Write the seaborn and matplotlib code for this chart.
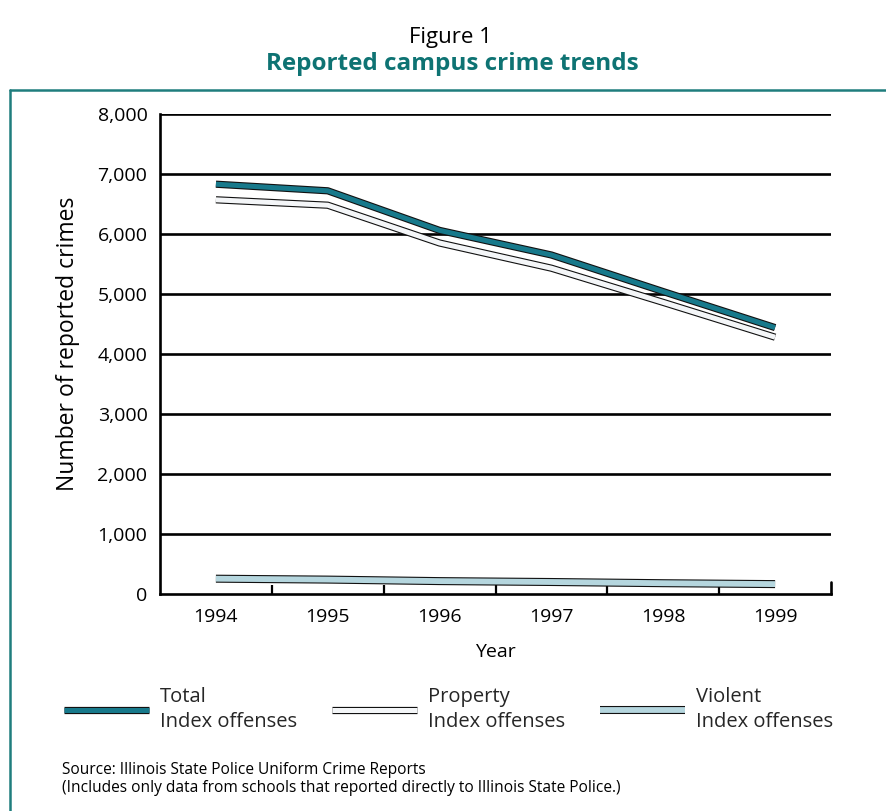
import matplotlib
matplotlib.use("Agg")
import matplotlib.pyplot as plt
import matplotlib.patheffects as pe
from matplotlib.lines import Line2D
from matplotlib.ticker import FixedLocator, FuncFormatter
import seaborn as sns
import pandas as pd

years = [1994, 1995, 1996, 1997, 1998, 1999]
total = [6830, 6720, 6060, 5650, 5040, 4440]
property_ = [6570, 6480, 5850, 5430, 4860, 4280]
violent = [255, 240, 215, 200, 180, 165]
series_labels = ["Total\nIndex offenses", "Property\nIndex offenses", "Violent\nIndex offenses"]
y_ticks = [0, 1000, 2000, 3000, 4000, 5000, 6000, 7000, 8000]

TEAL_LINE = "#17798b"
TEAL_TITLE = "#0e7373"
LIGHT_BLUE = "#b5d6de"
colors = [TEAL_LINE, "#f4f6f8", LIGHT_BLUE]

df = pd.DataFrame({
    "Year": years * 3,
    "Crimes": total + property_ + violent,
    "Series": [series_labels[0]] * 6 + [series_labels[1]] * 6 + [series_labels[2]] * 6,
})

sns.set_theme(style="white")
plt.rcParams["font.family"] = ["Open Sans", "DejaVu Sans"]

fig = plt.figure(figsize=(8.86, 8.11), dpi=100)
ax = fig.add_axes([160 / 886, 1 - 594 / 811, (831 - 160) / 886, (594 - 114) / 811])

# gridlines first
for yv in y_ticks[1:]:
    ax.axhline(yv, color="black", lw=1.9, zorder=1)

n_before = len(ax.lines)
sns.lineplot(data=df, x="Year", y="Crimes", hue="Series", hue_order=series_labels,
             palette=colors, ax=ax, legend=False, linewidth=3.0, sort=False)
series_lines = ax.lines[n_before:]

for i, ln in enumerate(series_lines):
    w = 3.6 if i < 2 else 4.2
    ln.set_linewidth(w)
    ln.set_path_effects([pe.Stroke(linewidth=w + 1.6, foreground="#111111"), pe.Normal()])
    ln.set_solid_capstyle("butt")
    ln.set_solid_joinstyle("round")
    ln.set_zorder(3)

ax.set_xlim(1993.5, 1999.5)
ax.set_ylim(0, 8000)
ax.set_yticks(y_ticks)
ax.yaxis.set_major_formatter(FuncFormatter(lambda v, p: f"{int(v):,}"))
ax.set_xticks(years)
ax.xaxis.set_minor_locator(FixedLocator([1994.5, 1995.5, 1996.5, 1997.5, 1998.5]))
ax.tick_params(axis="x", which="major", length=0, pad=10, labelsize=14, colors="black")
ax.tick_params(axis="x", which="minor", direction="in", length=6.5, width=1.6, color="black", bottom=True)
ax.tick_params(axis="y", length=0, pad=9, labelsize=14, colors="black")

for s in ["top", "right"]:
    ax.spines[s].set_visible(False)
for s in ["left", "bottom"]:
    ax.spines[s].set_color("black")
    ax.spines[s].set_linewidth(1.9)
ax.axvline(1999.5, ymin=0, ymax=12 / 480, color="black", lw=1.9, clip_on=False)

ax.set_xlabel("Year", fontsize=14, labelpad=12, color="black")
ax.set_ylabel("Number of reported crimes", fontsize=16.5, color="black")
ax.yaxis.set_label_coords((80 - 160) / 671, (594 - 344) / 480)
ax.patch.set_alpha(0)

# legend
leg = ax.legend(handles=series_lines, labels=series_labels, ncol=3, frameon=False,
                loc="upper left", bbox_to_anchor=(64 / 886, 1 - 687 / 811),
                bbox_transform=fig.transFigure, fontsize=14.5, handlelength=4.2,
                handletextpad=0.55, columnspacing=1.75, borderpad=0, borderaxespad=0)
for t in leg.get_texts():
    t.set_linespacing(1.35)

# titles
fig.text(450 / 886, 1 - 38 / 811, "Figure 1", ha="center", va="center", fontsize=16, color="black")
fig.text(452 / 886, 1 - 64 / 811, "Reported campus crime trends", ha="center", va="center",
         fontsize=17.5, fontweight="bold", color=TEAL_TITLE)

# frame
fig.add_artist(Line2D([10 / 886, 1.0], [1 - 90 / 811, 1 - 90 / 811], color="#1f7d7d", lw=1.8))
fig.add_artist(Line2D([10 / 886, 10 / 886], [1 - 90 / 811, 0], color="#1f7d7d", lw=1.8))

fig.text(62 / 886, 1 - 770 / 811, "Source: Illinois State Police Uniform Crime Reports",
         fontsize=11.2, va="center", color="black")
fig.text(62 / 886, 1 - 788 / 811,
         "(Includes only data from schools that reported directly to Illinois State Police.)",
         fontsize=11.2, va="center", color="black")

fig.savefig("out.png", dpi=100, facecolor="white")
